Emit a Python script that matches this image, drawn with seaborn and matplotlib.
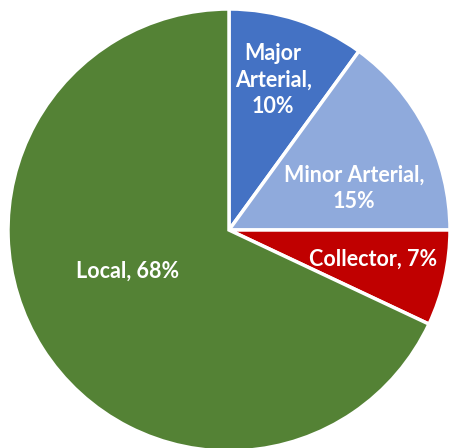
import matplotlib
matplotlib.use("Agg")
import matplotlib.pyplot as plt
import seaborn as sns

categories = ["Major Arterial", "Minor Arterial", "Collector", "Local"]
shares = [10, 15, 7, 68]
label_texts = ["Major\nArterial,\n10%", "Minor Arterial,\n15%", "Collector, 7%", "Local, 68%"]
colors = ["#4472C4", "#8FAADC", "#C00000", "#548235"]

sns.set_theme(style="white")
plt.rcParams["font.family"] = ["Lato", "DejaVu Sans"]

fig = plt.figure(figsize=(4.49, 4.48), dpi=100)
ax = fig.add_axes([8 / 449, -3 / 448, 442 / 449, 442 / 448])

wedges, _ = ax.pie(
    shares,
    colors=colors,
    startangle=90,
    counterclock=False,
    radius=1.0,
    wedgeprops=dict(edgecolor="white", linewidth=2.5),
)

# label anchor points inside each slice (in pie units)
label_pos = [(0.20, 0.68), (0.565, 0.19), (0.652, -0.131), (-0.457, -0.186)]
for txt, (x, y) in zip(label_texts, label_pos):
    ax.text(x, y, txt, ha="center", va="center", color="white",
            fontsize=15.5, fontweight="bold", linespacing=1.32)

ax.set_xlim(-1, 1)
ax.set_ylim(-1, 1)
ax.set_aspect("equal")
ax.axis("off")

fig.savefig("out.png", dpi=100)
